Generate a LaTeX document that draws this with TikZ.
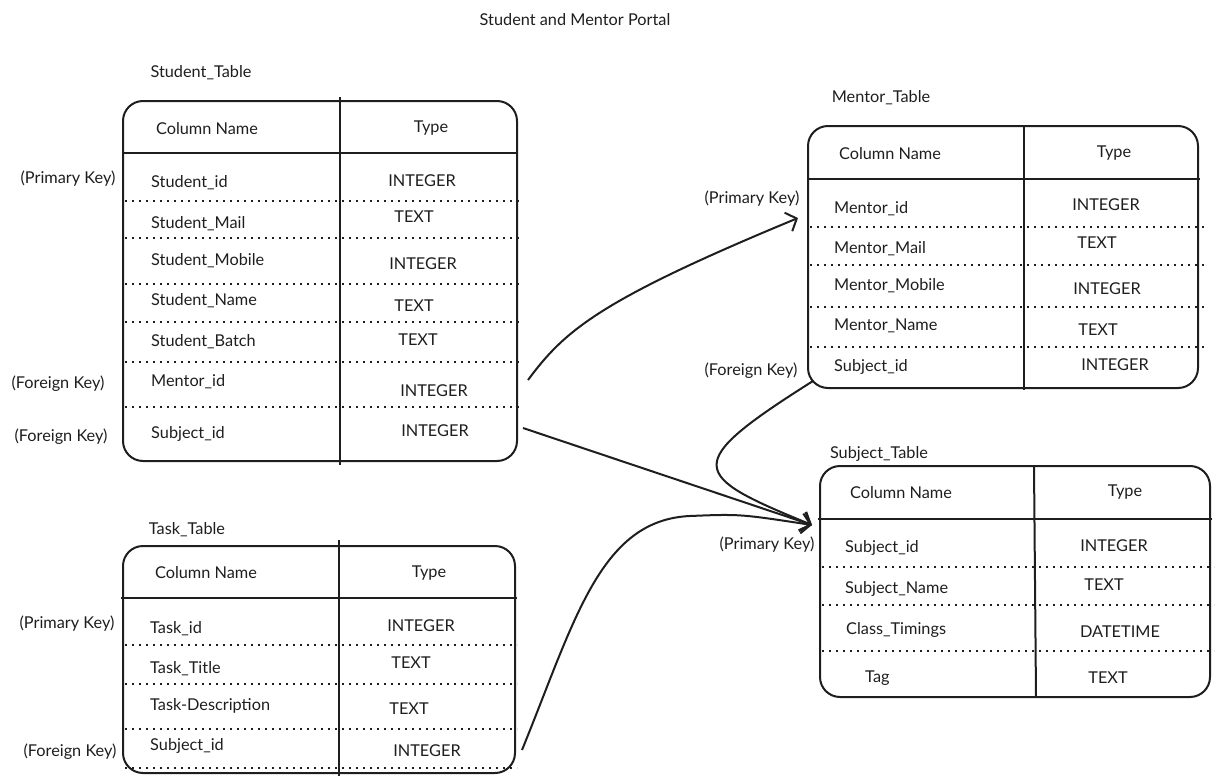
\documentclass[tikz,border=0pt]{standalone}
\usepackage{fontspec}
\setmainfont{Lato}
\usetikzlibrary{arrows.meta}
\definecolor{ink}{HTML}{1E1E1E}
\tikzset{
  frame/.style={draw=ink, line width=2pt, rounded corners=20pt},
  headline/.style={draw=ink, line width=2.8pt},
  colsep/.style={draw=ink, line width=2pt},
  dotline/.style={draw=ink, line width=2.2pt, dash pattern=on 2.2pt off 4.8pt},
  txt/.style={inner sep=0pt, text=ink, font=\fontsize{16.3}{18}\selectfont},
  link/.style={draw=ink, line width=2pt, -{Straight Barb[length=9pt,width=20pt]}},
}
\begin{document}
\begin{tikzpicture}[x=1pt,y=-1pt]
\useasboundingbox (0,0) rectangle (1224,784);

\node[txt] (title) at (575,20) {Student and Mentor Portal};

%Student_Table

\begin{scope}
\node[txt] (stu) at (201,73) {Student\_Table};
\draw[frame] (123,101) rectangle (517,461);
\draw[colsep] (340,97) -- (340,465);
\draw[headline] (123,153) -- (517,153);
\foreach \y in {201,238,284,322,362,407}
  \draw[dotline] (125,\y) -- (519,\y);
\node[txt] (stu-cn) at (207,129) {Column Name};
\node[txt] (stu-ty) at (431,128) {Type};
\foreach \n/\yn/\t/\xt/\yt [count=\i] in {Student\_id/183/INTEGER/422/181,
    Student\_Mail/224/TEXT/414/217, Student\_Mobile/261/INTEGER/423/264,
    Student\_Name/301/TEXT/414/306, Student\_Batch/342/TEXT/418/340,
    Mentor\_id/382/INTEGER/434/391, Subject\_id/434/INTEGER/435/431}
{
  \node[txt,anchor=west] (stu-n\i) at (151,\yn) {\n};
  \node[txt] (stu-t\i) at (\xt,\yt) {\t};
}
\node[txt] (stu-pk) at (68,179) {(Primary Key)};
\node[txt] (stu-fk1) at (58,384) {(Foreign Key)};
\node[txt] (stu-fk2) at (61,437) {(Foreign Key)};
\coordinate (stu-out1) at (528,380);
\coordinate (stu-out2) at (523,428);
\end{scope}

%Mentor_Table

\begin{scope}
\node[txt] (men) at (881,98) {Mentor\_Table};
\draw[frame] (808,126) rectangle (1198,388);
\draw[colsep] (1024,126) -- (1024,390);
\draw[headline] (808,179) -- (1200,179);
\foreach \y in {227,265,307,347}
  \draw[dotline] (810,\y) -- (1205,\y);
\node[txt] (men-cn) at (890,154) {Column Name};
\node[txt] (men-ty) at (1114,153) {Type};
\foreach \n/\yn/\t/\xt/\yt [count=\i] in {Mentor\_id/209/INTEGER/1106/205,
    Mentor\_Mail/249/TEXT/1097/243, Mentor\_Mobile/286/INTEGER/1107/289,
    Mentor\_Name/326/TEXT/1098/330, Subject\_id/367/INTEGER/1115/365}
{
  \node[txt,anchor=west] (men-n\i) at (834,\yn) {\n};
  \node[txt] (men-t\i) at (\xt,\yt) {\t};
}
\node[txt] (men-pk) at (752,199) {(Primary Key)};
\node[txt] (men-fk) at (751,371) {(Foreign Key)};
\coordinate (men-in) at (798,218);
\coordinate (men-out) at (813,381);
\end{scope}

%Subject_Table

\begin{scope}
\node[txt] (sub) at (879,454) {Subject\_Table};
\draw[frame] (820,466) rectangle (1210,697);
\draw[colsep] (1034,466) -- (1036,697);
\draw[headline] (818,519) -- (1212,519);
\foreach \y in {567,605,651}
  \draw[dotline] (822,\y) -- (1214,\y);
\node[txt] (sub-cn) at (901,493) {Column Name};
\node[txt] (sub-ty) at (1125,492) {Type};
\foreach \n/\xn/\yn/\t/\xt/\yt [count=\i] in {Subject\_id/845/548/INTEGER/1114/546,
    Subject\_Name/845/589/TEXT/1104/585, Class\_Timings/846/630/DATETIME/1120/632,
    Tag/865/678/TEXT/1108/678}
{
  \node[txt,anchor=west] (sub-n\i) at (\xn,\yn) {\n};
  \node[txt] (sub-t\i) at (\xt,\yt) {\t};
}
\node[txt] (sub-pk) at (767,545) {(Primary Key)};
\coordinate (sub-in) at (812,525);
\end{scope}

%Task_Table

\begin{scope}
\node[txt] (tas) at (187,530) {Task\_Table};
\draw[frame] (123,546) rectangle (515,773);
\draw[colsep] (339,540) -- (339,776);
\draw[headline] (121,598) -- (517,598);
\foreach \y in {645,684,729,768}
  \draw[dotline] (125,\y) -- (517,\y);
\node[txt] (tas-cn) at (206,573) {Column Name};
\node[txt] (tas-ty) at (429,573) {Type};
\foreach \n/\yn/\t/\xt/\yt [count=\i] in {Task\_id/629/INTEGER/421/626,
    Task\_Title/669/TEXT/411/663, Task-Description/706/TEXT/409/709,
    Subject\_id/746/INTEGER/427/751}
{
  \node[txt,anchor=west] (tas-n\i) at (150,\yn) {\n};
  \node[txt] (tas-t\i) at (\xt,\yt) {\t};
}
\node[txt] (tas-pk) at (67,624) {(Primary Key)};
\node[txt] (tas-fk) at (70,752) {(Foreign Key)};
\coordinate (tas-out) at (522,750);
\end{scope}

%links

\draw[link] (stu-out1) .. controls (565,330) and (600,300) .. (men-in);
\draw[link] (stu-out2) -- (sub-in);
\draw[link] (men-out) .. controls (680,465) and (690,475) .. (sub-in);
\draw[link] (tas-out) .. controls (575,620) and (600,520) .. (690,516)
  .. controls (740,514) .. (sub-in);

\end{tikzpicture}
\end{document}
